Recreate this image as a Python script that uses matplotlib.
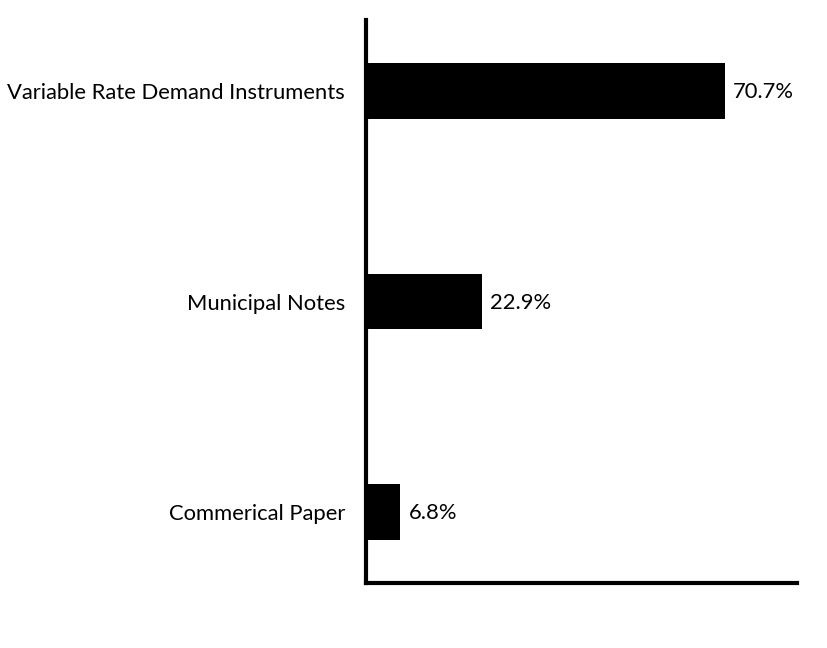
import matplotlib
matplotlib.use("Agg")
import matplotlib.pyplot as plt

categories = ["Variable Rate Demand Instruments", "Municipal Notes", "Commerical Paper"]
values = [70.7, 22.9, 6.8]
value_labels = ["70.7%", "22.9%", "6.8%"]

plt.rcParams["font.family"] = ["Lato", "DejaVu Sans"]

fig = plt.figure(figsize=(8.28, 6.48), dpi=100)
ax = fig.add_axes([0.442, 0.1003, 0.5206, 0.8687])

ypos = list(range(len(categories)))[::-1]
ax.barh(ypos, values, height=0.265, color="black")

for y, v, lab in zip(ypos, values, value_labels):
    ax.annotate(lab, (v, y), xytext=(6, -1), textcoords="offset points",
                va="center", ha="left", fontsize=15.8)

ax.set_yticks(ypos)
ax.set_yticklabels(categories, fontsize=15.8)
ax.tick_params(axis="y", length=0, pad=15)
ax.set_xticks([])
ax.set_xlim(0, 85)
ax.set_ylim(-0.337, 2.337)

for side in ("top", "right"):
    ax.spines[side].set_visible(False)
for side in ("left", "bottom"):
    ax.spines[side].set_linewidth(3)

fig.savefig("out.png", dpi=100)
